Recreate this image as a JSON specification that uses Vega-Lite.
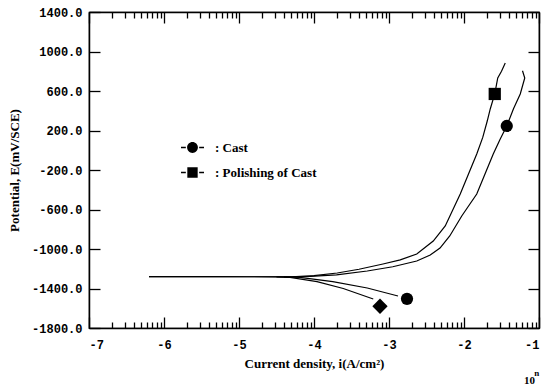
{
  "$schema": "https://vega.github.io/schema/vega-lite/v6.json",
  "autosize": "none",
  "width": 450,
  "height": 316,
  "padding": {"left": 89, "top": 12, "right": 11, "bottom": 60},
  "background": "white",
  "config": {
    "view": {"stroke": "black", "strokeWidth": 1.2},
    "axis": {
      "domainColor": "black", "domainWidth": 1.5, "tickColor": "black", "tickWidth": 1.3, "ticks": true,
      "grid": false, "labelColor": "black", "titleColor": "black", "zindex": 1,
      "labelFont": "Liberation Mono", "labelFontWeight": "bold", "labelFontSize": 12,
      "titleFont": "Liberation Serif", "titleFontWeight": "bold", "titleFontSize": 13
    }
  },
  "datasets": {
    "curves": [
      {"k": "Cast-a", "i": 1, "x": -6.2, "y": -1280},
      {"k": "Cast-a", "i": 2, "x": -5.5, "y": -1280},
      {"k": "Cast-a", "i": 3, "x": -4.9, "y": -1281},
      {"k": "Cast-a", "i": 4, "x": -4.3, "y": -1282},
      {"k": "Cast-a", "i": 5, "x": -4.05, "y": -1278},
      {"k": "Cast-a", "i": 6, "x": -3.7, "y": -1262},
      {"k": "Cast-a", "i": 7, "x": -3.29, "y": -1223},
      {"k": "Cast-a", "i": 8, "x": -2.95, "y": -1180},
      {"k": "Cast-a", "i": 9, "x": -2.63, "y": -1122},
      {"k": "Cast-a", "i": 10, "x": -2.45, "y": -1060},
      {"k": "Cast-a", "i": 11, "x": -2.32, "y": -990},
      {"k": "Cast-a", "i": 12, "x": -2.19, "y": -868},
      {"k": "Cast-a", "i": 13, "x": -2.03, "y": -666},
      {"k": "Cast-a", "i": 14, "x": -1.83, "y": -443},
      {"k": "Cast-a", "i": 15, "x": -1.72, "y": -240},
      {"k": "Cast-a", "i": 16, "x": -1.61, "y": -38},
      {"k": "Cast-a", "i": 17, "x": -1.52, "y": 110},
      {"k": "Cast-a", "i": 18, "x": -1.43, "y": 246},
      {"k": "Cast-a", "i": 19, "x": -1.34, "y": 420},
      {"k": "Cast-a", "i": 20, "x": -1.25, "y": 570},
      {"k": "Cast-a", "i": 21, "x": -1.19, "y": 732},
      {"k": "Cast-a", "i": 22, "x": -1.22, "y": 805},
      {"k": "Pol-a", "i": 1, "x": -6.2, "y": -1280},
      {"k": "Pol-a", "i": 2, "x": -5.5, "y": -1280},
      {"k": "Pol-a", "i": 3, "x": -4.9, "y": -1281},
      {"k": "Pol-a", "i": 4, "x": -4.3, "y": -1282},
      {"k": "Pol-a", "i": 5, "x": -4.0, "y": -1270},
      {"k": "Pol-a", "i": 6, "x": -3.69, "y": -1243},
      {"k": "Pol-a", "i": 7, "x": -3.4, "y": -1205},
      {"k": "Pol-a", "i": 8, "x": -3.08, "y": -1152},
      {"k": "Pol-a", "i": 9, "x": -2.85, "y": -1110},
      {"k": "Pol-a", "i": 10, "x": -2.63, "y": -1051},
      {"k": "Pol-a", "i": 11, "x": -2.41, "y": -919},
      {"k": "Pol-a", "i": 12, "x": -2.25, "y": -767},
      {"k": "Pol-a", "i": 13, "x": -2.05, "y": -443},
      {"k": "Pol-a", "i": 14, "x": -1.94, "y": -240},
      {"k": "Pol-a", "i": 15, "x": -1.83, "y": -38},
      {"k": "Pol-a", "i": 16, "x": -1.75, "y": 130},
      {"k": "Pol-a", "i": 17, "x": -1.69, "y": 296},
      {"k": "Pol-a", "i": 18, "x": -1.65, "y": 418},
      {"k": "Pol-a", "i": 19, "x": -1.59, "y": 570},
      {"k": "Pol-a", "i": 20, "x": -1.55, "y": 732},
      {"k": "Pol-a", "i": 21, "x": -1.5, "y": 800},
      {"k": "Pol-a", "i": 22, "x": -1.45, "y": 884},
      {"k": "Cast-c", "i": 1, "x": -4.4, "y": -1282},
      {"k": "Cast-c", "i": 2, "x": -4.19, "y": -1287},
      {"k": "Cast-c", "i": 3, "x": -3.75, "y": -1330},
      {"k": "Cast-c", "i": 4, "x": -3.29, "y": -1395},
      {"k": "Cast-c", "i": 5, "x": -2.88, "y": -1476},
      {"k": "Pol-c", "i": 1, "x": -4.5, "y": -1282},
      {"k": "Pol-c", "i": 2, "x": -4.32, "y": -1287},
      {"k": "Pol-c", "i": 3, "x": -3.96, "y": -1330},
      {"k": "Pol-c", "i": 4, "x": -3.61, "y": -1400},
      {"k": "Pol-c", "i": 5, "x": -3.21, "y": -1506}
    ],
    "markers": [
      {"m": "c", "x": -1.43, "y": 246},
      {"m": "s", "x": -1.59, "y": 570},
      {"m": "c", "x": -2.76, "y": -1505},
      {"m": "d", "x": -3.12, "y": -1580}
    ],
    "legend": [
      {"series": "Cast", "x": -6, "y": 0},
      {"series": "Polishing of Cast", "x": -6, "y": 0}
    ],
    "note": [
      {"t": "10", "x": -1.2, "y": -2340, "s": "b"},
      {"t": "n", "x": -1.065, "y": -2260, "s": "s"}
    ]
  },
  "layer": [
    {
      "data": {"name": "curves"},
      "mark": {"type": "line", "color": "black", "strokeWidth": 1.2},
      "encoding": {
        "x": {"field": "x", "type": "quantitative", "scale": {"domain": [-7, -1], "nice": false, "zero": false},
          "axis": {"orient": "bottom", "title": "Current density, i(A/cm²)", "titlePadding": 7,
            "values": [-7, -6.69897, -6.52288, -6.39794, -6.30103, -6.22185, -6.1549, -6.09691, -6.04576,
              -6, -5.69897, -5.52288, -5.39794, -5.30103, -5.22185, -5.1549, -5.09691, -5.04576,
              -5, -4.69897, -4.52288, -4.39794, -4.30103, -4.22185, -4.1549, -4.09691, -4.04576,
              -4, -3.69897, -3.52288, -3.39794, -3.30103, -3.22185, -3.1549, -3.09691, -3.04576,
              -3, -2.69897, -2.52288, -2.39794, -2.30103, -2.22185, -2.1549, -2.09691, -2.04576,
              -2, -1.69897, -1.52288, -1.39794, -1.30103, -1.22185, -1.1549, -1.09691, -1.04576, -1],
            "labelExpr": "datum.value % 1 == 0 ? '' + datum.value : ''",
            "tickSize": {"condition": {"test": "datum.value % 1 == 0", "value": -11}, "value": -6},
            "labelPadding": 22}},
        "y": {"field": "y", "type": "quantitative", "scale": {"domain": [-1800, 1400], "nice": false, "zero": false},
          "axis": {"orient": "left", "title": "Potential, E(mV/SCE)", "values": [-1800, -1400, -1000, -600, -200, 200, 600, 1000, 1400],
            "labelExpr": "datum.value + '.0'", "tickSize": -11, "labelPadding": 18, "titlePadding": 10}},
        "detail": {"field": "k"},
        "order": {"field": "i", "type": "quantitative"}
      }
    },
    {
      "data": {"name": "markers"},
      "mark": {"type": "point", "filled": true, "opacity": 1, "color": "black"},
      "encoding": {
        "x": {"field": "x", "type": "quantitative",
          "axis": {"orient": "top", "title": null, "labelExpr": "''",
            "values": [-7, -6.69897, -6.52288, -6.39794, -6.30103, -6.22185, -6.1549, -6.09691, -6.04576,
              -6, -5.69897, -5.52288, -5.39794, -5.30103, -5.22185, -5.1549, -5.09691, -5.04576,
              -5, -4.69897, -4.52288, -4.39794, -4.30103, -4.22185, -4.1549, -4.09691, -4.04576,
              -4, -3.69897, -3.52288, -3.39794, -3.30103, -3.22185, -3.1549, -3.09691, -3.04576,
              -3, -2.69897, -2.52288, -2.39794, -2.30103, -2.22185, -2.1549, -2.09691, -2.04576,
              -2, -1.69897, -1.52288, -1.39794, -1.30103, -1.22185, -1.1549, -1.09691, -1.04576, -1],
            "tickSize": {"condition": {"test": "datum.value % 1 == 0", "value": -11}, "value": -6}}},
        "y": {"field": "y", "type": "quantitative",
          "axis": {"orient": "right", "title": null, "labelExpr": "''",
            "values": [-1800, -1400, -1000, -600, -200, 200, 600, 1000, 1400], "tickSize": -11}},
        "shape": {"field": "m", "type": "nominal", "scale": {"domain": ["c", "s", "d"], "range": ["circle", "square", "M0,-1.25L1.25,0L0,1.25L-1.25,0Z"]}, "legend": null},
        "size": {"value": 150}
      }
    },
    {
      "data": {"name": "legend"},
      "mark": {"type": "point", "filled": true, "opacity": 0, "color": "black"},
      "encoding": {
        "x": {"field": "x", "type": "quantitative", "axis": null},
        "y": {"field": "y", "type": "quantitative", "axis": null},
        "shape": {"field": "series", "type": "nominal",
          "scale": {"domain": ["Cast", "Polishing of Cast"],
            "range": ["M-1,-0.07L-0.58,-0.07L-0.58,0.07L-1,0.07ZM0.58,-0.07L1,-0.07L1,0.07L0.58,0.07ZM-0.47,0A0.47,0.47,0,1,0,0.47,0A0.47,0.47,0,1,0,-0.47,0Z",
                      "M-1,-0.07L-0.58,-0.07L-0.58,0.07L-1,0.07ZM0.58,-0.07L1,-0.07L1,0.07L0.58,0.07ZM-0.45,-0.45L0.45,-0.45L0.45,0.45L-0.45,0.45Z"]},
          "legend": {"orient": "none", "legendX": 91, "legendY": 123, "title": null,
            "symbolSize": 529, "symbolOpacity": 1, "symbolFillColor": "black",
            "labelFont": "Liberation Serif", "labelFontWeight": "bold",
            "labelFontSize": 13, "labelColor": "black", "labelExpr": "': ' + datum.label",
            "labelOffset": 10, "rowPadding": 4, "padding": 0}}
      }
    },
    {
      "data": {"name": "note"},
      "mark": {"type": "text", "font": "Liberation Serif", "fontWeight": "bold", "color": "black", "align": "left"},
      "encoding": {
        "x": {"field": "x", "type": "quantitative", "axis": null},
        "y": {"field": "y", "type": "quantitative", "axis": null},
        "text": {"field": "t"},
        "size": {"field": "s", "type": "nominal", "scale": {"domain": ["b", "s"], "range": [11, 9]}, "legend": null}
      }
    }
  ],
  "resolve": {"axis": {"x": "independent", "y": "independent"}, "scale": {"shape": "independent", "size": "independent"}}
}
